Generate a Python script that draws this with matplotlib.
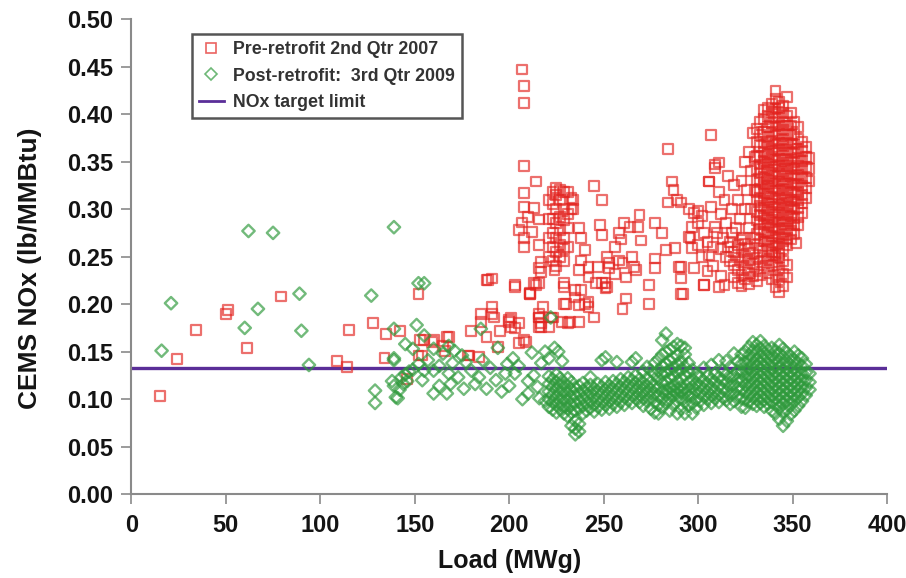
"""CEMS NOx vs load, pre- and post-retrofit scatter with the NOx target limit."""

import matplotlib

matplotlib.use("Agg")
import matplotlib.pyplot as plt
from matplotlib.lines import Line2D

# ---- data -----------------------------------------------------------------
# scattered pre-retrofit points: (load MWg, NOx lb/MMBtu)
PRE_SPARSE = [
    (15, 0.103), (24, 0.142), (34, 0.173), (50, 0.190), (51, 0.194), (61, 0.154),
    (79, 0.208), (109, 0.140), (114, 0.134), (115, 0.173), (128, 0.180), (134, 0.143),
    (135, 0.169), (142, 0.172), (146, 0.121), (152, 0.211), (153, 0.162), (152, 0.146),
    (155, 0.162), (154, 0.146), (159, 0.160), (160, 0.162), (165, 0.156), (166, 0.151),
    (167, 0.165), (168, 0.165), (178, 0.146), (179, 0.146), (180, 0.172), (184, 0.144),
    (185, 0.181), (185, 0.190), (188, 0.165), (188, 0.225), (189, 0.225), (191, 0.227),
    (191, 0.190), (191, 0.197), (192, 0.186), (194, 0.155), (195, 0.172), (200, 0.181),
    (200, 0.183), (201, 0.176), (201, 0.186), (203, 0.218), (203, 0.220), (203, 0.175),
    (205, 0.159), (205, 0.180), (208, 0.162), (209, 0.160), (211, 0.211), (211, 0.212),
    (214, 0.220), (216, 0.222), (216, 0.190), (216, 0.186), (216, 0.176), (217, 0.180),
    (217, 0.176), (217, 0.234), (221, 0.176), (222, 0.186), (223, 0.186),
]

PRE_MID = [
    (207, 0.447), (208, 0.430), (208, 0.412), (208, 0.345), (214, 0.329), (208, 0.317),
    (208, 0.302), (213, 0.301), (207, 0.286), (205, 0.278), (208, 0.270), (208, 0.260),
    (216, 0.262), (216, 0.289), (212, 0.276), (210, 0.292), (234, 0.310), (234, 0.300),
    (237, 0.280), (238, 0.270), (240, 0.257), (238, 0.246), (237, 0.236), (242, 0.228),
    (245, 0.324), (249, 0.310), (248, 0.283), (249, 0.273), (252, 0.250), (258, 0.246),
    (251, 0.222), (252, 0.218), (246, 0.222), (253, 0.238), (238, 0.215), (229, 0.218),
    (230, 0.200), (237, 0.199), (242, 0.202), (245, 0.186), (237, 0.181), (228, 0.181),
    (216, 0.186), (218, 0.197), (213, 0.222), (211, 0.211), (217, 0.244), (216, 0.238),
    (224, 0.236), (261, 0.285), (258, 0.275), (259, 0.268), (264, 0.281), (269, 0.294),
    (268, 0.281), (270, 0.267), (277, 0.285), (281, 0.275), (266, 0.239), (274, 0.220),
    (274, 0.200), (277, 0.248), (283, 0.257), (288, 0.259), (291, 0.239), (291, 0.227),
    (292, 0.211), (284, 0.363), (286, 0.329), (287, 0.320), (284, 0.307), (289, 0.310),
    (291, 0.307), (295, 0.300), (298, 0.296), (300, 0.298), (302, 0.293), (307, 0.302),
    (306, 0.329), (309, 0.347), (297, 0.281), (295, 0.271), (297, 0.259), (306, 0.252),
    (303, 0.220), (309, 0.281), (311, 0.218), (307, 0.378), (311, 0.349), (309, 0.343),
    (306, 0.329), (311, 0.318), (260, 0.195), (262, 0.206), (242, 0.197), (231, 0.180),
    (232, 0.181), (229, 0.200), (235, 0.207), (240, 0.200), (229, 0.222), (235, 0.215),
    (249, 0.222), (251, 0.217), (253, 0.243), (247, 0.239), (242, 0.239), (260, 0.243),
    (267, 0.236), (277, 0.238), (290, 0.239), (291, 0.211), (298, 0.238), (303, 0.220),
    (314, 0.220), (256, 0.232), (262, 0.228), (256, 0.260), (265, 0.250),
]

# dense cluster around 220-233 MWg: (load, [NOx values])
PRE_CLUSTER = [
    (221, [0.250, 0.270, 0.290, 0.310]),
    (223, [0.245, 0.260, 0.275, 0.290, 0.305, 0.318]),
    (225, [0.240, 0.255, 0.270, 0.285, 0.300, 0.315, 0.322]),
    (227, [0.250, 0.262, 0.278, 0.292, 0.310, 0.320]),
    (229, [0.245, 0.258, 0.270, 0.288, 0.300, 0.318]),
    (231, [0.260, 0.280, 0.295, 0.318]),
    (233, [0.300, 0.312]),
]

# left fringe of the full-load blob
PRE_FRINGE = [
    (313, 0.270), (315, 0.285), (317, 0.265), (318, 0.300), (320, 0.280), (321, 0.310),
    (322, 0.290), (323, 0.330), (324, 0.270), (325, 0.300), (325, 0.350), (326, 0.320),
    (327, 0.280), (327, 0.360), (328, 0.300), (328, 0.340), (329, 0.380), (330, 0.270),
    (330, 0.320), (330, 0.355), (314, 0.310), (316, 0.335), (319, 0.325), (312, 0.295),
    (318, 0.275), (300, 0.285), (303, 0.275), (305, 0.265), (308, 0.260), (310, 0.275),
    (312, 0.258), (315, 0.250), (317, 0.245), (300, 0.262), (296, 0.270), (302, 0.250),
    (305, 0.235), (308, 0.240), (312, 0.230), (316, 0.260), (352, 0.264),
]

# full-load blob, 319-359 MWg
PRE_BLOB = [
    (319, [0.228, 0.241, 0.255]),
    (321, [0.222, 0.236, 0.249, 0.262]),
    (323, [0.219, 0.231, 0.244, 0.257, 0.268]),
    (325, [0.226, 0.238, 0.251, 0.263]),
    (327, [0.221, 0.233, 0.246, 0.258]),
    (329, [0.229, 0.242, 0.254]),
    (331, [0.224, 0.237, 0.249, 0.262, 0.274, 0.288, 0.297, 0.309, 0.318, 0.331, 0.342,
           0.356, 0.371, 0.384]),
    (333, [0.231, 0.244, 0.256, 0.268, 0.279, 0.286, 0.294, 0.303, 0.312, 0.321, 0.329,
           0.338, 0.347, 0.355, 0.366, 0.378, 0.392]),
    (335, [0.238, 0.251, 0.266, 0.276, 0.284, 0.293, 0.301, 0.309, 0.317, 0.326, 0.334,
           0.343, 0.351, 0.360, 0.369, 0.381, 0.395, 0.404]),
    (337, [0.233, 0.246, 0.258, 0.267, 0.275, 0.283, 0.291, 0.299, 0.307, 0.316, 0.324,
           0.332, 0.341, 0.349, 0.358, 0.367, 0.376, 0.386, 0.398, 0.407]),
    (339, [0.226, 0.240, 0.252, 0.255, 0.264, 0.272, 0.281, 0.289, 0.297, 0.305, 0.313,
           0.322, 0.330, 0.338, 0.346, 0.355, 0.363, 0.372, 0.381, 0.391, 0.402, 0.411]),
    (341, [0.218, 0.231, 0.244, 0.252, 0.261, 0.270, 0.278, 0.286, 0.294, 0.302, 0.311,
           0.319, 0.327, 0.335, 0.344, 0.352, 0.361, 0.369, 0.378, 0.387, 0.396, 0.405,
           0.416, 0.424]),
    (343, [0.213, 0.225, 0.238, 0.249, 0.254, 0.263, 0.271, 0.279, 0.287, 0.296, 0.304,
           0.312, 0.320, 0.329, 0.337, 0.345, 0.353, 0.362, 0.370, 0.379, 0.388, 0.397,
           0.406, 0.413]),
    (345, [0.219, 0.232, 0.245, 0.258, 0.266, 0.274, 0.283, 0.291, 0.299, 0.307, 0.316,
           0.324, 0.332, 0.340, 0.349, 0.357, 0.366, 0.374, 0.383, 0.392, 0.401, 0.409]),
    (347, [0.228, 0.241, 0.262, 0.270, 0.279, 0.287, 0.295, 0.303, 0.312, 0.320, 0.328,
           0.337, 0.345, 0.353, 0.362, 0.370, 0.379, 0.388, 0.398, 0.418]),
    (349, [0.268, 0.277, 0.285, 0.293, 0.302, 0.310, 0.318, 0.327, 0.335, 0.343, 0.352,
           0.360, 0.369, 0.378, 0.388, 0.401]),
    (351, [0.274, 0.283, 0.291, 0.300, 0.308, 0.316, 0.325, 0.333, 0.342, 0.350, 0.359,
           0.368, 0.379, 0.392]),
    (353, [0.283, 0.292, 0.301, 0.310, 0.318, 0.327, 0.336, 0.345, 0.354, 0.363, 0.374,
           0.386]),
    (355, [0.296, 0.306, 0.315, 0.324, 0.333, 0.342, 0.351, 0.361, 0.371]),
    (357, [0.312, 0.322, 0.333, 0.344, 0.355, 0.365]),
    (359, [0.330, 0.342, 0.354]),
]

# post-retrofit scattered points
POST_SPARSE = [
    (16, 0.151), (21, 0.201), (62, 0.277), (75, 0.275), (60, 0.175), (67, 0.195),
    (89, 0.211), (90, 0.172), (94, 0.136), (127, 0.209), (139, 0.281), (129, 0.109),
    (129, 0.096), (139, 0.174), (145, 0.158), (151, 0.178), (139, 0.141), (139, 0.114),
    (140, 0.102), (152, 0.222), (155, 0.222), (154, 0.120),
]

POST_MID = [
    (141, 0.101), (138, 0.119), (143, 0.123), (145, 0.126), (147, 0.129), (149, 0.131),
    (142, 0.110), (144, 0.116), (146, 0.119), (155, 0.167), (149, 0.153), (160, 0.153),
    (165, 0.148), (168, 0.156), (171, 0.151), (175, 0.146), (139, 0.143), (155, 0.130),
    (160, 0.130), (168, 0.127), (173, 0.123), (180, 0.130), (182, 0.116), (176, 0.111),
    (169, 0.116), (163, 0.114), (160, 0.106), (167, 0.106), (185, 0.174), (194, 0.154),
    (199, 0.137), (202, 0.143), (200, 0.114), (203, 0.127), (210, 0.119), (210, 0.106),
    (216, 0.101), (212, 0.149), (222, 0.186), (224, 0.154), (219, 0.098), (186, 0.141),
    (190, 0.133), (193, 0.120), (196, 0.108), (205, 0.135), (207, 0.100), (213, 0.125),
    (217, 0.138), (219, 0.150), (152, 0.137), (157, 0.141), (163, 0.135), (170, 0.138),
    (177, 0.139), (184, 0.123), (188, 0.111), (198, 0.127), (215, 0.113), (221, 0.143),
    (226, 0.150), (228, 0.140),
]

# low-NOx band from 220 to 320 MWg and the full-load blob
POST_BAND = [
    (221, [0.092, 0.100, 0.108, 0.116, 0.124]),
    (223, [0.089, 0.097, 0.105, 0.113, 0.121]),
    (225, [0.086, 0.094, 0.102, 0.110, 0.118, 0.126]),
    (227, [0.090, 0.098, 0.106, 0.114, 0.122]),
    (229, [0.085, 0.093, 0.101, 0.109, 0.117]),
    (231, [0.082, 0.090, 0.098, 0.106, 0.114, 0.122]),
    (233, [0.072, 0.086, 0.094, 0.102, 0.110, 0.118]),
    (235, [0.063, 0.069, 0.077, 0.088, 0.096, 0.104, 0.112]),
    (237, [0.066, 0.074, 0.090, 0.098, 0.106, 0.114]),
    (239, [0.085, 0.093, 0.101, 0.109, 0.117]),
    (241, [0.088, 0.096, 0.104, 0.112]),
    (243, [0.091, 0.099, 0.107, 0.115, 0.123]),
    (245, [0.087, 0.095, 0.103, 0.111]),
    (247, [0.092, 0.100, 0.108, 0.116]),
    (249, [0.089, 0.097, 0.105, 0.113, 0.141]),
    (251, [0.094, 0.102, 0.110, 0.118, 0.144]),
    (253, [0.090, 0.098, 0.106, 0.114]),
    (255, [0.095, 0.103, 0.111, 0.119]),
    (257, [0.092, 0.100, 0.108, 0.116, 0.139]),
    (259, [0.097, 0.105, 0.113, 0.121]),
    (261, [0.094, 0.102, 0.110, 0.118]),
    (263, [0.099, 0.107, 0.115, 0.123]),
    (265, [0.096, 0.104, 0.112, 0.120, 0.139]),
    (267, [0.101, 0.109, 0.117, 0.125, 0.143]),
    (269, [0.097, 0.105, 0.113, 0.121]),
    (271, [0.093, 0.101, 0.109, 0.117, 0.129]),
    (273, [0.098, 0.106, 0.114, 0.122, 0.134]),
    (275, [0.090, 0.102, 0.110, 0.118, 0.130]),
    (277, [0.086, 0.097, 0.106, 0.114, 0.126, 0.138]),
    (279, [0.085, 0.094, 0.103, 0.112, 0.121, 0.130, 0.142]),
    (281, [0.091, 0.100, 0.108, 0.117, 0.126, 0.135, 0.147, 0.162]),
    (283, [0.096, 0.105, 0.110, 0.119, 0.128, 0.137, 0.150, 0.169]),
    (285, [0.088, 0.100, 0.107, 0.112, 0.122, 0.131, 0.140, 0.152]),
    (287, [0.094, 0.104, 0.109, 0.114, 0.124, 0.133, 0.143, 0.155]),
    (289, [0.085, 0.098, 0.106, 0.111, 0.119, 0.128, 0.137, 0.146, 0.158]),
    (291, [0.090, 0.101, 0.108, 0.113, 0.122, 0.131, 0.140, 0.156]),
    (293, [0.085, 0.097, 0.106, 0.111, 0.125, 0.134, 0.147, 0.154]),
    (295, [0.093, 0.103, 0.110, 0.118, 0.128, 0.138]),
    (297, [0.085, 0.096, 0.105, 0.113, 0.121, 0.131]),
    (299, [0.091, 0.100, 0.109, 0.117, 0.126]),
    (301, [0.098, 0.106, 0.114, 0.123]),
    (303, [0.094, 0.103, 0.111, 0.119, 0.133]),
    (305, [0.100, 0.108, 0.116, 0.125]),
    (307, [0.096, 0.104, 0.112, 0.121, 0.136]),
    (309, [0.101, 0.109, 0.118, 0.127]),
    (311, [0.097, 0.105, 0.114, 0.123, 0.141]),
    (313, [0.102, 0.111, 0.120, 0.130]),
    (315, [0.099, 0.108, 0.117, 0.126, 0.140]),
    (317, [0.095, 0.104, 0.113, 0.122, 0.134]),
    (319, [0.098, 0.107, 0.116, 0.125, 0.148]),
    (321, [0.103, 0.112, 0.121, 0.130, 0.140]),
    (323, [0.092, 0.101, 0.110, 0.119, 0.128, 0.137, 0.147]),
    (325, [0.091, 0.099, 0.107, 0.115, 0.123, 0.131, 0.139, 0.150]),
    (327, [0.097, 0.104, 0.111, 0.118, 0.125, 0.132, 0.139, 0.146, 0.155]),
    (329, [0.095, 0.102, 0.109, 0.116, 0.123, 0.130, 0.137, 0.144, 0.151, 0.160]),
    (331, [0.093, 0.100, 0.107, 0.114, 0.121, 0.128, 0.135, 0.142, 0.149, 0.157]),
    (333, [0.096, 0.103, 0.110, 0.117, 0.124, 0.131, 0.138, 0.145, 0.153, 0.161]),
    (335, [0.092, 0.099, 0.106, 0.113, 0.120, 0.127, 0.134, 0.141, 0.148, 0.156]),
    (337, [0.095, 0.102, 0.109, 0.116, 0.123, 0.130, 0.137, 0.144, 0.152]),
    (339, [0.088, 0.097, 0.104, 0.111, 0.118, 0.125, 0.132, 0.139, 0.146, 0.154]),
    (341, [0.085, 0.094, 0.101, 0.108, 0.115, 0.122, 0.129, 0.136, 0.143, 0.151]),
    (343, [0.079, 0.091, 0.098, 0.105, 0.112, 0.119, 0.126, 0.133, 0.140, 0.148, 0.157]),
    (345, [0.072, 0.086, 0.095, 0.102, 0.109, 0.116, 0.123, 0.130, 0.137, 0.145, 0.153]),
    (347, [0.077, 0.089, 0.098, 0.105, 0.112, 0.119, 0.126, 0.133, 0.140, 0.149]),
    (349, [0.084, 0.094, 0.101, 0.108, 0.115, 0.122, 0.129, 0.136, 0.145]),
    (351, [0.088, 0.098, 0.105, 0.112, 0.119, 0.126, 0.133, 0.141, 0.150]),
    (353, [0.093, 0.102, 0.109, 0.116, 0.123, 0.130, 0.138, 0.146]),
    (355, [0.098, 0.106, 0.113, 0.120, 0.127, 0.135, 0.143]),
    (357, [0.104, 0.112, 0.120, 0.128, 0.137]),
    (359, [0.110, 0.118, 0.127]),
]

NOX_LIMIT = 0.133
X_TICKS = list(range(0, 401, 50))
Y_TICKS = [i * 0.05 for i in range(11)]

RED = "#E3231F"
GREEN = "#2F9A3C"
PURPLE = "#5A2E98"
AXIS_GREY = "#8a8a8a"
INK = "#141414"
FONT = "Liberation Sans"


def flatten(points, columns):
    xs = [p[0] for p in points]
    ys = [p[1] for p in points]
    for load, vals in columns:
        xs += [load] * len(vals)
        ys += list(vals)
    return xs, ys


pre_x, pre_y = flatten(PRE_SPARSE + PRE_MID + PRE_FRINGE, PRE_CLUSTER + PRE_BLOB)
post_x, post_y = flatten(POST_SPARSE + POST_MID, POST_BAND)

fig = plt.figure(figsize=(9.06, 5.78), dpi=100)
ax = fig.add_axes([0.145, 0.145, 0.834, 0.822])

ax.axhline(NOX_LIMIT, color=PURPLE, lw=2.4, zorder=1)
ax.scatter(pre_x, pre_y, marker="s", s=50, facecolors="none", edgecolors=RED,
           linewidths=1.6, alpha=0.65, zorder=2)
ax.scatter(post_x, post_y, marker="D", s=40, facecolors="none", edgecolors=GREEN,
           linewidths=1.7, alpha=0.68, zorder=3)

ax.set_xlim(0, 400)
ax.set_ylim(0, 0.5)
ax.set_xticks(X_TICKS)
ax.set_yticks(Y_TICKS)
ax.set_xticklabels([str(t) for t in X_TICKS])
ax.set_yticklabels([f"{t:.2f}" for t in Y_TICKS])
for lab in ax.get_xticklabels() + ax.get_yticklabels():
    lab.set_fontfamily(FONT)
    lab.set_fontweight("bold")
    lab.set_fontsize(17)
    lab.set_color(INK)
ax.tick_params(direction="out", length=7, width=1.2, color=AXIS_GREY)
ax.tick_params(axis="x", pad=7)
ax.tick_params(axis="y", pad=6)

ax.spines[["top", "right"]].set_visible(False)
for side in ("left", "bottom"):
    ax.spines[side].set_color(AXIS_GREY)
    ax.spines[side].set_linewidth(1.5)

ax.set_xlabel("Load (MWg)", fontfamily=FONT, fontweight="bold", fontsize=18,
              color=INK, labelpad=9)
ax.set_ylabel("CEMS NOx (lb/MMBtu)", fontfamily=FONT, fontweight="bold", fontsize=19,
              color=INK)
ax.yaxis.set_label_coords(-0.118, 0.475)

handles = [
    Line2D([], [], ls="none", marker="s", ms=7, mfc="none", mec=RED, mew=1.2, alpha=0.7),
    Line2D([], [], ls="none", marker="D", ms=6.5, mfc="none", mec=GREEN, mew=1.2, alpha=0.7),
    Line2D([], [], color=PURPLE, lw=2),
]
labels = ["Pre-retrofit 2nd Qtr 2007", "Post-retrofit:  3rd Qtr 2009", "NOx target limit"]
leg = ax.legend(handles, labels, loc="upper left", bbox_to_anchor=(0.08, 0.968),
                borderaxespad=0, fancybox=False, framealpha=1, handlelength=1.4,
                handletextpad=0.5, borderpad=0.4, labelspacing=0.52,
                prop={"family": FONT, "weight": "bold", "size": 12.8})
leg.get_frame().set_edgecolor("#555555")
leg.get_frame().set_linewidth(1.8)
for t in leg.get_texts():
    t.set_color("#333333")

fig.savefig("out.png", dpi=100)
